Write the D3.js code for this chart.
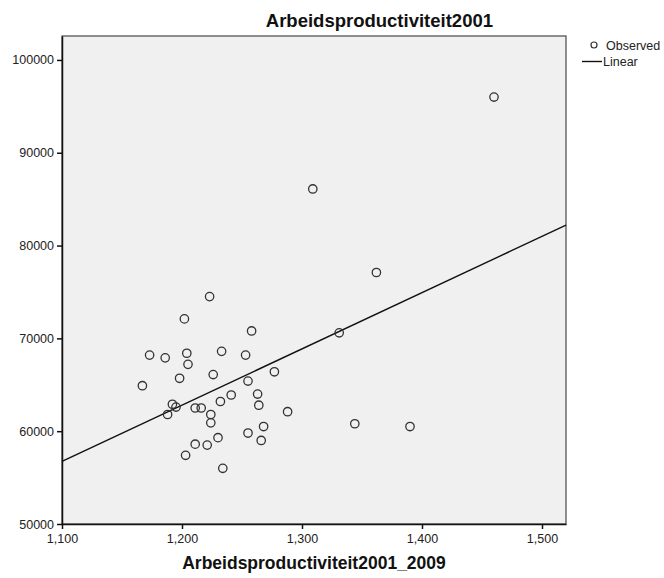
<!DOCTYPE html>
<html lang="en">
	<head>
		<meta charset="UTF-8" />
		<title>Arbeidsproductiviteit2001</title>
		<style>
			body { margin: 0; background: #fff; }
			text { font-family: 'Liberation Sans', Arial, sans-serif; }
		</style>
	</head>
	<body>
		<svg id="svg" width="664" height="578"></svg>
		<script src="https://d3js.org/d3.v7.min.js"></script>
		<script>
			// Data
			const productivity0109 = [
				1460, 1309, 1362, 1223, 1202, 1258, 1331, 1173, 1186, 1204,
				1233, 1253, 1205, 1198, 1226, 1277, 1167, 1255, 1241, 1263,
				1192, 1195, 1188, 1232, 1264, 1211, 1216, 1224, 1224, 1288,
				1268, 1344, 1390, 1255, 1266, 1230, 1211, 1221, 1203, 1234
			];
			const productivity2001 = [
				96000, 86100, 77100, 74500, 72100, 70800, 70600, 68200, 67900, 68400,
				68600, 68200, 67200, 65700, 66100, 66400, 64900, 65400, 63900, 64000,
				62900, 62600, 61800, 63200, 62800, 62500, 62500, 61800, 60900, 62100,
				60500, 60800, 60500, 59800, 59000, 59300, 58600, 58500, 57400, 56000
			];
			const fitX = [1100, 1520];
			const fitY = [56750, 82200];
			const xTicks = [1100, 1200, 1300, 1400, 1500];
			const yTicks = [50000, 60000, 70000, 80000, 90000, 100000];

			const points = productivity0109.map((d, i) => ({ x: d, y: productivity2001[i] }));
			const fit = fitX.map((d, i) => ({ x: d, y: fitY[i] }));

			// Layout
			const plotLeft = 62, plotRight = 566, plotTop = 36, plotBottom = 524;

			const xscale = d3.scaleLinear().domain([1100, 1520]).range([plotLeft, plotRight]);
			const yscale = d3.scaleLinear().domain([50000, 102580]).range([plotBottom, plotTop]);

			const svg = d3.select('#svg');

			// plot area
			svg.append('rect')
				.attr('x', plotLeft).attr('y', plotTop)
				.attr('width', plotRight - plotLeft).attr('height', plotBottom - plotTop)
				.attr('fill', '#f0f0f0')
				.attr('stroke', '#555')
				.attr('stroke-width', 1.3);

			// axes
			const bottomAxis = d3.axisBottom(xscale)
				.tickValues(xTicks)
				.tickSize(5)
				.tickSizeOuter(0)
				.tickFormat(d3.format(','));
			const leftAxis = d3.axisLeft(yscale)
				.tickValues(yTicks)
				.tickSize(5)
				.tickSizeOuter(0)
				.tickFormat(d3.format('d'));

			const gx = svg.append('g')
				.attr('transform', `translate(0, ${plotBottom})`)
				.call(bottomAxis);
			const gy = svg.append('g')
				.attr('transform', `translate(${plotLeft}, 0)`)
				.call(leftAxis);

			[gx, gy].forEach((g) => {
				g.select('.domain').attr('stroke', '#111').attr('stroke-width', 1.5);
				g.selectAll('.tick line').attr('stroke', '#111').attr('stroke-width', 1.5);
				g.selectAll('.tick text')
					.attr('fill', '#222')
					.style('font-size', '12.5px')
					.style('font-family', "'Liberation Sans', Arial, sans-serif");
			});
			gx.selectAll('.tick text').attr('dy', '0.9em');
			gy.selectAll('.tick text').attr('x', -8);

			// fit line
			const linegen = d3.line()
				.x((d) => xscale(d.x))
				.y((d) => yscale(d.y));
			svg.append('path')
				.attr('d', linegen(fit))
				.attr('fill', 'none')
				.attr('stroke', '#111')
				.attr('stroke-width', 1.4);

			// observed points
			svg.append('g')
				.selectAll('circle')
				.data(points)
				.join('circle')
				.attr('cx', (d) => xscale(d.x))
				.attr('cy', (d) => yscale(d.y))
				.attr('r', 4.2)
				.attr('fill', 'none')
				.attr('stroke', '#333')
				.attr('stroke-width', 1.3);

			// titles
			svg.append('text')
				.attr('x', 493).attr('y', 27)
				.attr('text-anchor', 'end')
				.attr('font-weight', 'bold')
				.attr('font-size', 18.5)
				.attr('fill', '#111')
				.text('Arbeidsproductiviteit2001');

			svg.append('text')
				.attr('x', (plotLeft + plotRight) / 2).attr('y', 569)
				.attr('text-anchor', 'middle')
				.attr('font-weight', 'bold')
				.attr('font-size', 17.5)
				.attr('fill', '#111')
				.text('Arbeidsproductiviteit2001_2009');

			// legend
			const legend = svg.append('g');
			legend.append('circle')
				.attr('cx', 594).attr('cy', 45).attr('r', 3)
				.attr('fill', 'none').attr('stroke', '#333').attr('stroke-width', 1.2);
			legend.append('text')
				.attr('x', 606).attr('y', 49.5)
				.attr('font-size', 12.5).attr('fill', '#222')
				.text('Observed');
			legend.append('line')
				.attr('x1', 582).attr('x2', 602).attr('y1', 61.5).attr('y2', 61.5)
				.attr('stroke', '#111').attr('stroke-width', 1.4);
			legend.append('text')
				.attr('x', 603).attr('y', 66)
				.attr('font-size', 12.5).attr('fill', '#222')
				.text('Linear');
		</script>
	</body>
</html>
